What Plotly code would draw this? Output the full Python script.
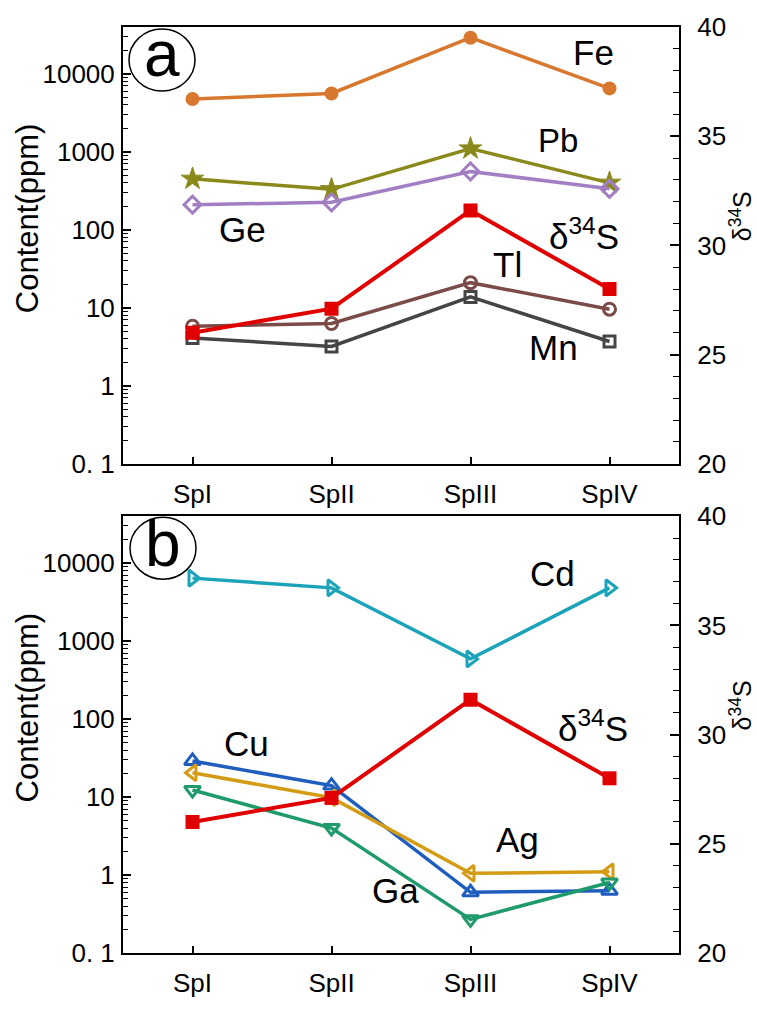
import plotly.graph_objects as go

categories = ["SpI", "SpII", "SpIII", "SpIV"]

# Panel a (ppm)
fe = [4750, 5600, 29000, 6500]
pb = [450, 330, 1100, 400]
ge = [210, 225, 560, 335]
tl = [5.8, 6.3, 21, 9.6]
mn = [4.1, 3.2, 13.8, 3.7]

# Panel b (ppm)
cd = [6400, 4800, 590, 4800]
cu = [29, 14, 0.6, 0.63]
ag = [20.5, 9.8, 1.05, 1.1]
ga = [12.3, 4.0, 0.27, 0.8]

# delta34S (permil), both panels
d34s = [26.0, 27.1, 31.6, 28.0]

left_tickvals = [0.1, 1, 10, 100, 1000, 10000]
left_ticktext = ["0. 1", "1", "10", "100", "1000", "10000"]
right_tickvals = [20, 25, 30, 35, 40]

FONT = "Arial, Liberation Sans, sans-serif"
W, H = 757, 1010
ML, MR, MT, MB = 123, 78, 25, 31
PW = W - ML - MR
PH = H - MT - MB


def px(x):
    return (x - ML) / PW


def py(y):
    return (H - MB - y) / PH


fig = go.Figure()


def add(y, name, color, symbol, size, xa, ya, width=3.5, lw=3):
    fig.add_trace(go.Scatter(
        x=categories, y=y, name=name, mode="lines+markers",
        line=dict(color=color, width=width),
        marker=dict(symbol=symbol, size=size, color=color,
                    line=dict(color=color, width=lw)),
        xaxis=xa, yaxis=ya, showlegend=False))


# Panel a
add(fe, "Fe", "#D8782E", "circle", 14, "x", "y", lw=0)
add(pb, "Pb", "#8A8A1C", "star", 17, "x", "y", lw=1)
add(ge, "Ge", "#A27FC2", "diamond-open", 13, "x", "y")
add(tl, "Tl", "#7B4B47", "circle-open", 12, "x", "y")
add(mn, "Mn", "#454545", "square-open", 11, "x", "y")
add(d34s, "d34S", "#E00000", "square", 14, "x", "y2", width=4, lw=0)

# Panel b
add(cd, "Cd", "#1BA3BA", "triangle-right-open", 14, "x2", "y3")
add(cu, "Cu", "#1F5EBE", "triangle-up-open", 14, "x2", "y3")
add(ag, "Ag", "#D49B14", "triangle-left-open", 14, "x2", "y3")
add(ga, "Ga", "#1F9A6B", "triangle-down-open", 14, "x2", "y3")
add(d34s, "d34S", "#E00000", "square", 14, "x2", "y4", width=4, lw=0)

minor_vals = [m * 10 ** e for e in range(-1, 5) for m in range(2, 10)]

tickfont = dict(family=FONT, size=26, color="black")

xcommon = dict(type="category", range=[-0.5, 3.5], showline=True, linewidth=2,
               linecolor="black", mirror=True, ticks="inside", ticklen=7,
               tickwidth=1.5, tickcolor="black", tickfont=tickfont,
               showgrid=False, zeroline=False, ticklabelstandoff=6)
yleft = dict(type="log", range=[-1, 4.6], tickvals=left_tickvals,
             ticktext=left_ticktext, showline=True, linewidth=2,
             linecolor="black", ticks="inside", ticklen=8, tickwidth=1.5,
             tickcolor="black", tickfont=tickfont, showgrid=False,
             zeroline=False, ticklabelstandoff=1,
             minor=dict(tickvals=minor_vals, ticks="inside", ticklen=5,
                        tickwidth=1.2, tickcolor="black", showgrid=False))
yright = dict(range=[20, 40], tickvals=right_tickvals, side="right",
              showline=True, linewidth=2, linecolor="black", ticks="inside",
              ticklen=9, tickwidth=1.5, tickcolor="black", tickfont=tickfont,
              showgrid=False, zeroline=False, ticklabelstandoff=11,
              minor=dict(dtick=1, ticks="inside", ticklen=6, tickwidth=1.2,
                         tickcolor="black", showgrid=False))

top_dom = [1 - 450 / PH, 1]
bot_dom = [0, 450 / PH]

fig.update_layout(
    width=W, height=H,
    margin=dict(l=ML, r=MR, t=MT, b=MB, pad=0),
    paper_bgcolor="white", plot_bgcolor="white",
    font=dict(family=FONT, color="black"),
    xaxis=dict(**xcommon, anchor="y", domain=[0, 1]),
    xaxis2=dict(**xcommon, anchor="y3", domain=[0, 1]),
    yaxis=dict(**yleft, domain=top_dom, anchor="x"),
    yaxis2=dict(**yright, overlaying="y", anchor="x"),
    yaxis3=dict(**yleft, domain=bot_dom, anchor="x2"),
    yaxis4=dict(**yright, overlaying="y3", anchor="x2"),
)

ann = []


def label(text, x, y, size=35, angle=0):
    ann.append(dict(text=text, x=px(x), y=py(y), xref="paper", yref="paper",
                    showarrow=False, xanchor="center", yanchor="middle",
                    textangle=angle,
                    font=dict(family=FONT, size=size, color="black")))


# panel a labels
label("Fe", 593, 51)
label("Pb", 558, 142, size=33)
label("Ge", 242, 234)
label("δ<sup>34</sup>S", 584, 238)
label("Tl", 507, 270)
label("Mn", 553, 355)
# panel b labels
label("Cd", 552, 588)
label("δ<sup>34</sup>S", 593, 745)
label("Cu", 246, 763)
label("Ag", 517, 862)
label("Ga", 395, 915)
# axis titles
label("Content(ppm)", 27, 222, size=31, angle=-90)
label("Content(ppm)", 27, 726, size=31, angle=-90)
label("δ<sup>34</sup>S", 741, 220, size=25, angle=-90)
label("δ<sup>34</sup>S", 741, 724, size=25, angle=-90)
# panel letters
label("a", 162, 53, size=64)
label("b", 163, 558, size=64)

fig.update_layout(annotations=ann)

shapes = []
for cx, cy in [(162, 59), (163, 562)]:
    shapes.append(dict(type="circle", xref="paper", yref="paper",
                       xsizemode="pixel", ysizemode="pixel",
                       xanchor=px(cx), yanchor=py(cy),
                       x0=-33, x1=33, y0=-31, y1=31,
                       line=dict(color="black", width=1.5)))
fig.update_layout(shapes=shapes)

fig.write_html("out.html")
